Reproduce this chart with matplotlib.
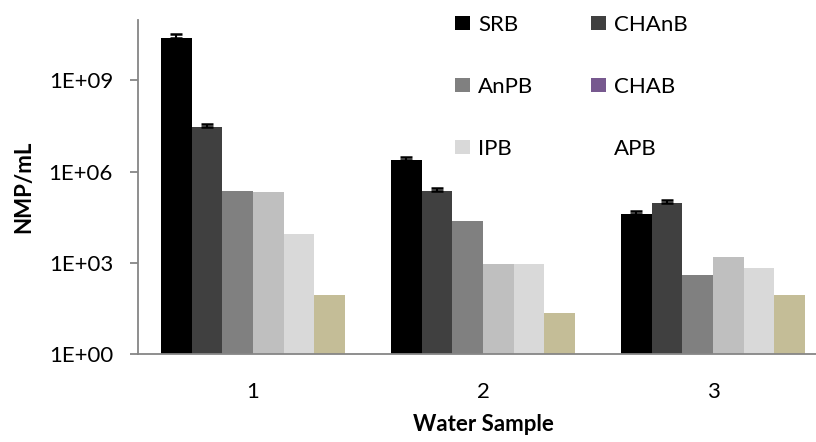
import matplotlib
matplotlib.use("Agg")
import matplotlib.pyplot as plt
from matplotlib.patches import Patch
import numpy as np

plt.rcParams['font.family'] = ['Lato', 'DejaVu Sans']

samples = ['1', '2', '3']
series = ['SRB', 'CHAnB', 'AnPB', 'CHAB', 'IPB', 'APB']
srb = [2.4e10, 2.35e6, 4.1e4]
chanb = [3.0e7, 2.3e5, 9.1e4]
anpb = [2.35e5, 2.3e4, 400]
chab = [2.1e5, 910, 1550]
ipb = [8.9e3, 910, 690]
apb = [87, 22, 87]
srb_err = [0.9e10, 0.75e6, 1.1e4]
chanb_err = [0.8e7, 0.65e5, 2.6e4]

values = [srb, chanb, anpb, chab, ipb, apb]
errors = [srb_err, chanb_err, None, None, None, None]
bar_colors = ['#000000', '#404040', '#808080', '#bfbfbf', '#d9d9d9', '#c4bd97']
legend_colors = ['#000000', '#404040', '#808080', '#77598f', '#d9d9d9', 'none']

fig = plt.figure(figsize=(8.16, 4.42), dpi=100)
ax = fig.add_axes([138 / 816, 88 / 442, 690 / 816, 334.4 / 442])

x = np.arange(len(samples))
w = 0.8 / len(series)
for i, (vals, err) in enumerate(zip(values, errors)):
    pos = x + (i - 2.5) * w
    ax.bar(pos, vals, width=w, color=bar_colors[i], bottom=1, label=series[i])
    if err is not None:
        ax.errorbar(pos, vals, yerr=[[0] * len(err), err], fmt='none',
                    ecolor='black', elinewidth=1.5, capsize=4.5, capthick=1.8)

ax.set_yscale('log')
ax.set_ylim(1, 1e11)
ax.set_xlim(-0.5, 2.5)
ax.set_yticks([1, 1e3, 1e6, 1e9])
ax.set_yticklabels(['1E+00', '1E+03', '1E+06', '1E+09'])
ax.minorticks_off()
ax.set_xticks(x)
ax.set_xticklabels(samples)

for s in ['top', 'right']:
    ax.spines[s].set_visible(False)
for s in ['left', 'bottom']:
    ax.spines[s].set_color('#868686')
    ax.spines[s].set_linewidth(1.3)
ax.tick_params(axis='y', length=6, width=1.3, color='#868686', pad=12, labelsize=16)
ax.tick_params(axis='x', length=0, pad=20, labelsize=16)

ax.set_ylabel('NMP/mL', fontsize=16, fontweight='bold', labelpad=10)
ax.set_xlabel('Water Sample', fontsize=16, fontweight='bold', labelpad=9)

handles = [Patch(facecolor=c, edgecolor='none') for c in legend_colors]
# two columns filled row by row: SRB CHAnB / AnPB CHAB / IPB APB
col_order = [0, 2, 4, 1, 3, 5]
ax.legend([handles[k] for k in col_order], [series[k] for k in col_order],
          ncol=2, frameon=False, fontsize=16, loc='upper left',
          bbox_to_anchor=(455 / 816, 427 / 442), bbox_transform=fig.transFigure,
          borderpad=0, borderaxespad=0, handlelength=0.68, handleheight=0.62,
          handletextpad=0.35, labelspacing=1.88, columnspacing=2.6)

fig.savefig('out.png', dpi=100)
